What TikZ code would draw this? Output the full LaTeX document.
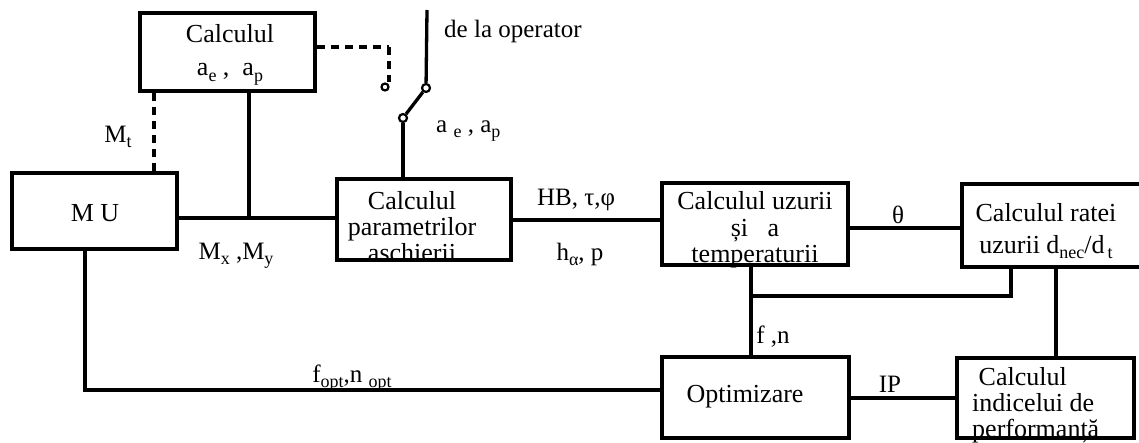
\documentclass[tikz,border=0pt]{standalone}
\usepackage{fontspec}
\setmainfont{Liberation Serif}
\newcommand\lo[1]{\raisebox{-0.45ex}{\fontsize{18}{18}\selectfont #1}}
\begin{document}
\begin{tikzpicture}[x=1pt,y=-1pt,
  box/.style={draw, line width=4pt, inner sep=0pt},
  txt/.style={inner sep=0pt, align=center, font=\fontsize{26}{26}\selectfont},
  wire/.style={line width=3.3pt},
  dwire/.style={line width=4.5pt, dash pattern=on 8pt off 6pt},
  lbl/.style={font=\fontsize{25}{26}\selectfont, inner sep=0pt},
  term/.style={circle, draw, line width=2.2pt, fill=white, minimum size=8pt, inner sep=0pt}]
\useasboundingbox (0,0) rectangle (1139,443);
\clip (0,0) rectangle (1139,443);

% boxes
\node[box, minimum width=175pt, minimum height=78pt] (calc) at (227.5,52) {};
\node[box, minimum width=165pt, minimum height=76pt] (mu) at (94.5,211) {};
\node[box, minimum width=174pt, minimum height=81pt] (param) at (424,219.5) {};
\node[box, minimum width=186pt, minimum height=82pt] (wear) at (755,224) {};
\node[box, minimum width=190pt, minimum height=83pt] (rate) at (1057,225.5) {};
\node[box, minimum width=187pt, minimum height=81pt] (opt) at (755.5,397.5) {};
\node[box, minimum width=177pt, minimum height=80pt] (perf) at (1045.5,398) {};

% box texts
\node[txt, font=\fontsize{26}{33}\selectfont] (calct) at (230,55) {Calculul\\ a\lo{e} ,\ \ a\lo{p}};
\node[txt] (mut) at (95,213) {M U};
\node[txt] (paramt) at (412,227) {Calculul\\parametrilor\\aschierii};
\node[txt, font=\fontsize{26}{26.5}\selectfont] (weart) at (755,230) {Calculul uzurii\\ și\ \ \ a\\temperaturii};
\node[txt, font=\fontsize{26}{32}\selectfont] (ratet) at (1046,231) {Calculul ratei\\uzurii d\lo{nec}/d\lo{\,t}};
\node[txt] (optt) at (745,397) {Optimizare};
\node[txt, align=left, anchor=west] (perft) at (972,405) {\ Calculul\\indicelui de\\performanță};

% switch
\coordinate (optop) at (427,10);
\node[term] (sw1) at (426,88) {};
\node[term] (sw2) at (403,118) {};
\node[term, minimum size=7pt] (sw3) at (385,87) {};
\coordinate (dk) at (389,47);

% connectors
\draw[wire] (optop) -- (sw1);
\draw[wire] (sw1) -- (sw2);
\draw[wire] (sw2) -- (sw2 |- param.north);
\draw[dwire] (calc.east |- dk) -- (dk);
\draw[dwire] (dk) -- (dk |- sw3.north);

\coordinate (mtx) at (154,0);
\draw[dwire] (calc.south -| mtx) -- (mu.north -| mtx);

\coordinate (j1) at (249,218);
\draw[wire] (mu.east |- j1) -- (param.west |- j1);
\draw[wire] (calc.south -| j1) -- (j1);

\coordinate (j2) at (580,220);
\draw[wire] (param.east |- j2) -- (wear.west |- j2);

\coordinate (j3) at (900,228);
\draw[wire] (wear.east |- j3) -- (rate.west |- j3);

\coordinate (j4) at (751,296);
\coordinate (j5) at (1011,296);
\draw[wire] (wear.south -| j4) -- (opt.north -| j4);
\draw[wire] (j4) -- (j5) -- (rate.south -| j5);

\coordinate (j6) at (1056,300);
\draw[wire] (rate.south -| j6) -- (perf.north -| j6);

\coordinate (j7) at (85,390);
\draw[wire] (mu.south -| j7) -- (j7) -- (opt.west |- j7);

\coordinate (j8) at (900,398);
\draw[wire] (opt.east |- j8) -- (perf.west |- j8);

% labels
\node[lbl] (lmt) at (118,137) {M\lo{t}};
\node[lbl] (lmxy) at (236,256) {M\lo{x} ,M\lo{y}};
\node[lbl, anchor=west] (lop) at (444,31) {de la operator};
\node[lbl, anchor=west] (lae) at (436,131) {a \lo{e} , a\lo{p}};
\node[lbl] (lhb) at (576,200) {HB, τ,φ};
\node[lbl] (lh) at (580,254) {h\lo{α}, p};
\node[lbl] (lth) at (898,215) {θ};
\node[lbl] (lfn) at (773,337) {f ,n};
\node[lbl] (lip) at (890,384) {IP};
\node[lbl] (lfo) at (352,378) {f\lo{opt},n \lo{opt}};
\end{tikzpicture}
\end{document}
